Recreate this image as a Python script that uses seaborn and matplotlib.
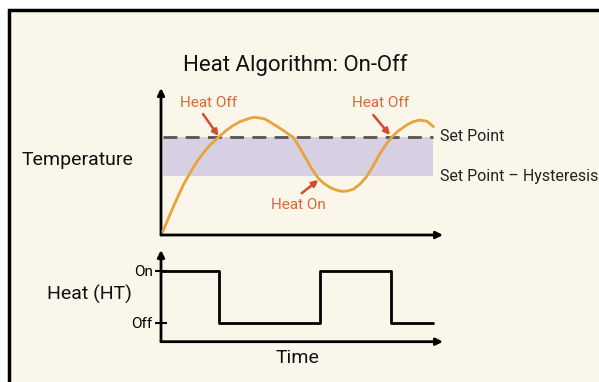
import matplotlib
matplotlib.use("Agg")
import matplotlib.pyplot as plt
from matplotlib.patches import Rectangle
import numpy as np
import pandas as pd
import seaborn as sns

# temperature curve (time 0..100, temperature 0..100)
time_pts = [0.6, 3.2, 5.3, 7.8, 10.3, 12.7, 15.2, 17.4, 20.3, 23.0, 25.5,
            28.0, 31.6, 33.3, 36.9, 42.2, 46.9, 49.3, 51.7, 53.5, 55.8,
            57.8, 59.9, 62.1, 64.1, 66.0, 68.2, 70.6, 72.9, 75.2, 77.7,
            79.8, 81.8, 84.0, 87.1, 89.4, 91.8, 94.3, 96.6]
temp_pts = [2.2, 14.0, 23.2, 33.6, 42.3, 49.8, 56.2, 61.2, 66.4, 70.9, 74.4,
            77.1, 79.5, 80.1, 78.9, 72.6, 66.5, 59.0, 51.0, 44.9, 38.6,
            35.0, 32.4, 30.6, 29.7, 29.9, 31.1, 34.7, 39.7, 46.9, 55.6,
            61.6, 66.5, 70.6, 74.8, 77.1, 78.2, 77.4, 73.7]

set_point = 67
set_point_low = 40

# heater state: 1 = On, 0 = Off
heat_time = [0, 20.6, 56.4, 81.6, 96.5]
heat_state = [1, 0, 1, 0, 0]
heat_ticks = [0, 1]
heat_labels = ["Off", "On"]

# label text position, arrow start, arrow end (time, temp)
events = [("Heat Off", (17.0, 89.8), (14.9, 82.3), (20.4, 67.3)),
          ("Heat Off", (77.7, 89.8), (75.3, 81.6), (81.2, 68.0)),
          ("Heat On", (48.7, 20.4), (49.9, 28.4), (55.8, 37.4))]

sns.set_theme(style="white")
plt.rcParams["font.family"] = ["Liberation Sans Narrow", "Roboto", "DejaVu Sans"]
plt.rcParams["font.stretch"] = "condensed"

cream = "#faf7ea"
fig = plt.figure(figsize=(5.99, 3.82), dpi=100)
fig.patch.set_facecolor("white")
fig.patches.append(Rectangle((9 / 599, -0.1), 1.2, 1.1 - 10 / 382,
                             transform=fig.transFigure, facecolor=cream,
                             edgecolor="black", lw=2.5, zorder=-5))

ax1 = fig.add_axes([161 / 599, (382 - 235) / 382, 282 / 599, 147 / 382])
ax2 = fig.add_axes([161 / 599, (382 - 341.7) / 382, 282 / 599, 91.7 / 382])

for ax in (ax1, ax2):
    ax.set_facecolor("none")
    for s in ax.spines.values():
        s.set_visible(False)
    ax.set_xlim(0, 100)
    # axis arrows
    ax.annotate("", xy=(1, 0), xytext=(0, 0), xycoords="axes fraction",
                arrowprops=dict(arrowstyle="-|>", color="black", lw=2,
                                mutation_scale=10, shrinkA=0, shrinkB=0))
    ax.annotate("", xy=(0, 1), xytext=(0, 0), xycoords="axes fraction",
                arrowprops=dict(arrowstyle="-|>", color="black", lw=2,
                                mutation_scale=10, shrinkA=0, shrinkB=0))

# top: temperature
ax1.set_ylim(0, 100)
ax1.fill_between([0.7, 96.5], set_point_low, set_point, color="#d6d0e2",
                 lw=0, zorder=1)
ax1.hlines(set_point, 0.7, 96.5, colors="#555555", linestyles=(0, (5, 3)),
           lw=2, zorder=2)
df = pd.DataFrame({"time": time_pts, "temp": temp_pts})
sns.lineplot(data=df, x="time", y="temp", ax=ax1, color="#e9a33c", lw=2,
             zorder=3, solid_joinstyle="round")
ax1.set_xlabel("")
ax1.set_ylabel("")
ax1.set_xticks([])
ax1.set_yticks([])
ax1.text(98.9, set_point, "Set Point", va="center", ha="left",
         fontsize=11.5, color="#222222", clip_on=False)
ax1.text(98.9, set_point_low, "Set Point \u2013 Hysteresis", va="center",
         ha="left", fontsize=11.5, color="#222222", clip_on=False)
for label, txt, start, end in events:
    ax1.text(txt[0], txt[1], label, ha="center", va="center", fontsize=11,
             color="#e0643a")
    ax1.annotate("", xy=end, xytext=start,
                 arrowprops=dict(arrowstyle="-|>", color="#d84a2b", lw=1.8,
                                 mutation_scale=9, shrinkA=0, shrinkB=0))

# bottom: heater
ax2.set_ylim(-0.36, 1.4)
hf = pd.DataFrame({"time": heat_time, "state": heat_state})
sns.lineplot(data=hf, x="time", y="state", ax=ax2, color="black", lw=2,
             drawstyle="steps-post")
ax2.set_xlabel("")
ax2.set_ylabel("")
ax2.set_xticks([])
ax2.set_yticks(heat_ticks, heat_labels)
ax2.tick_params(axis="y", left=True, direction="inout", length=8, width=1.5,
                pad=2, labelsize=11, colors="black")

fig.text(295 / 599, 1 - 65 / 382, "Heat Algorithm: On-Off", ha="center",
         va="center", fontsize=16, color="#111111")
fig.text(78 / 599, 1 - 160 / 382, "Temperature", ha="center", va="center",
         fontsize=14, color="#111111")
fig.text(89 / 599, 1 - 294 / 382, "Heat (HT)", ha="center", va="center",
         fontsize=14, color="#111111")
fig.text(297 / 599, 1 - 358 / 382, "Time", ha="center", va="center",
         fontsize=14, color="#111111")

fig.savefig("out.png", dpi=100, facecolor=fig.get_facecolor())
